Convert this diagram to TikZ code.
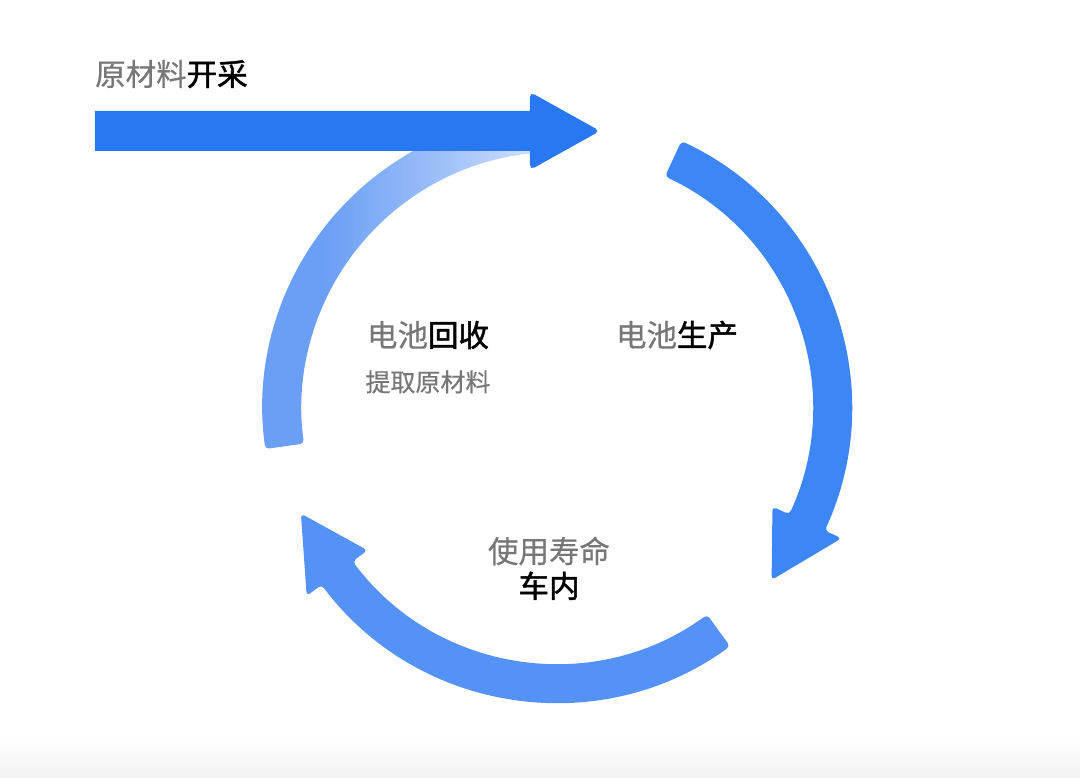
\documentclass[tikz,border=0pt]{standalone}
\usepackage{fontspec}
\setmainfont{Noto Sans CJK SC}[FakeBold=0.5]
\newfontfamily\darkcjk{Noto Sans CJK SC}[FakeBold=1.6]
\usetikzlibrary{positioning}
\definecolor{mineblue}{HTML}{2878F2}
\definecolor{prodblue}{HTML}{3D86F5}
\definecolor{useblue}{HTML}{5592F5}
\definecolor{recA}{HTML}{6A9FF5}
\definecolor{recB}{HTML}{DCE8FC}
\definecolor{txtgray}{HTML}{777777}
\newcommand{\dk}[1]{{\darkcjk\color{black}#1}}
\pgfdeclarehorizontalshading{recfade}{100bp}{color(0bp)=(recA); color(37bp)=(recA); color(56bp)=(recA!55!recB); color(75bp)=(recB); color(100bp)=(recB)}
\tikzset{
  stage/.style={inner sep=0pt,text=txtgray,font=\fontsize{30.5}{34}\selectfont},
  substage/.style={inner sep=0pt,text=txtgray,font=\fontsize{25}{28}\selectfont},
  band/.style={rounded corners=4pt},
}

\begin{document}
\begin{tikzpicture}[x=1pt,y=1pt]
  \useasboundingbox (-557,-370) rectangle (523,408);
  \shade[top color=white,bottom color=black!5] (-557,-370) rectangle (523,-332);
  % recycling arc, fading into the mining arrow
  \shade[shading=recfade,band] (188:294.5) arc[start angle=188,end angle=90,radius=294.5]
    -- (90:255.5) arc[start angle=90,end angle=188,radius=255.5] -- cycle;
  % raw material mining
  \fill[mineblue] (-462,257) -- (-27,257) [rounded corners=5pt] -- (-27,238) -- (43,277)
    -- (-27,316) [sharp corners] -- (-27,297) -- (-462,297) -- cycle;
  % production
  \fill[prodblue,band] (65:294.5) arc[start angle=65,end angle=-24.6,radius=294.5]
    -- (-24.6:313) -- (-38.7:275) -- (-24.6:237) -- (-24.6:255.5)
    arc[start angle=-24.6,end angle=65,radius=255.5] -- cycle;
  % service life
  \fill[useblue,band] (-54:294.5) arc[start angle=-54,end angle=-143.1,radius=294.5]
    -- (-143.1:313) -- (-157.6:277) -- (-143.1:237) -- (-143.1:255.5)
    arc[start angle=-143.1,end angle=-54,radius=255.5] -- cycle;

  \node[stage,anchor=west] (mining) at (-462,334) {原材料\dk{开采}};
  \node[stage] (recycle) at (-129,73) {电池\dk{回收}};
  \node[substage,below=21pt of recycle] (extract) {提取原材料};
  \node[stage] (produce) at (120,73) {电池\dk{生产}};
  \node[stage] (uselife) at (-8,-143) {使用寿命};
  \node[stage,below=6pt of uselife] (invehicle) {\dk{车内}};
\end{tikzpicture}
\end{document}
